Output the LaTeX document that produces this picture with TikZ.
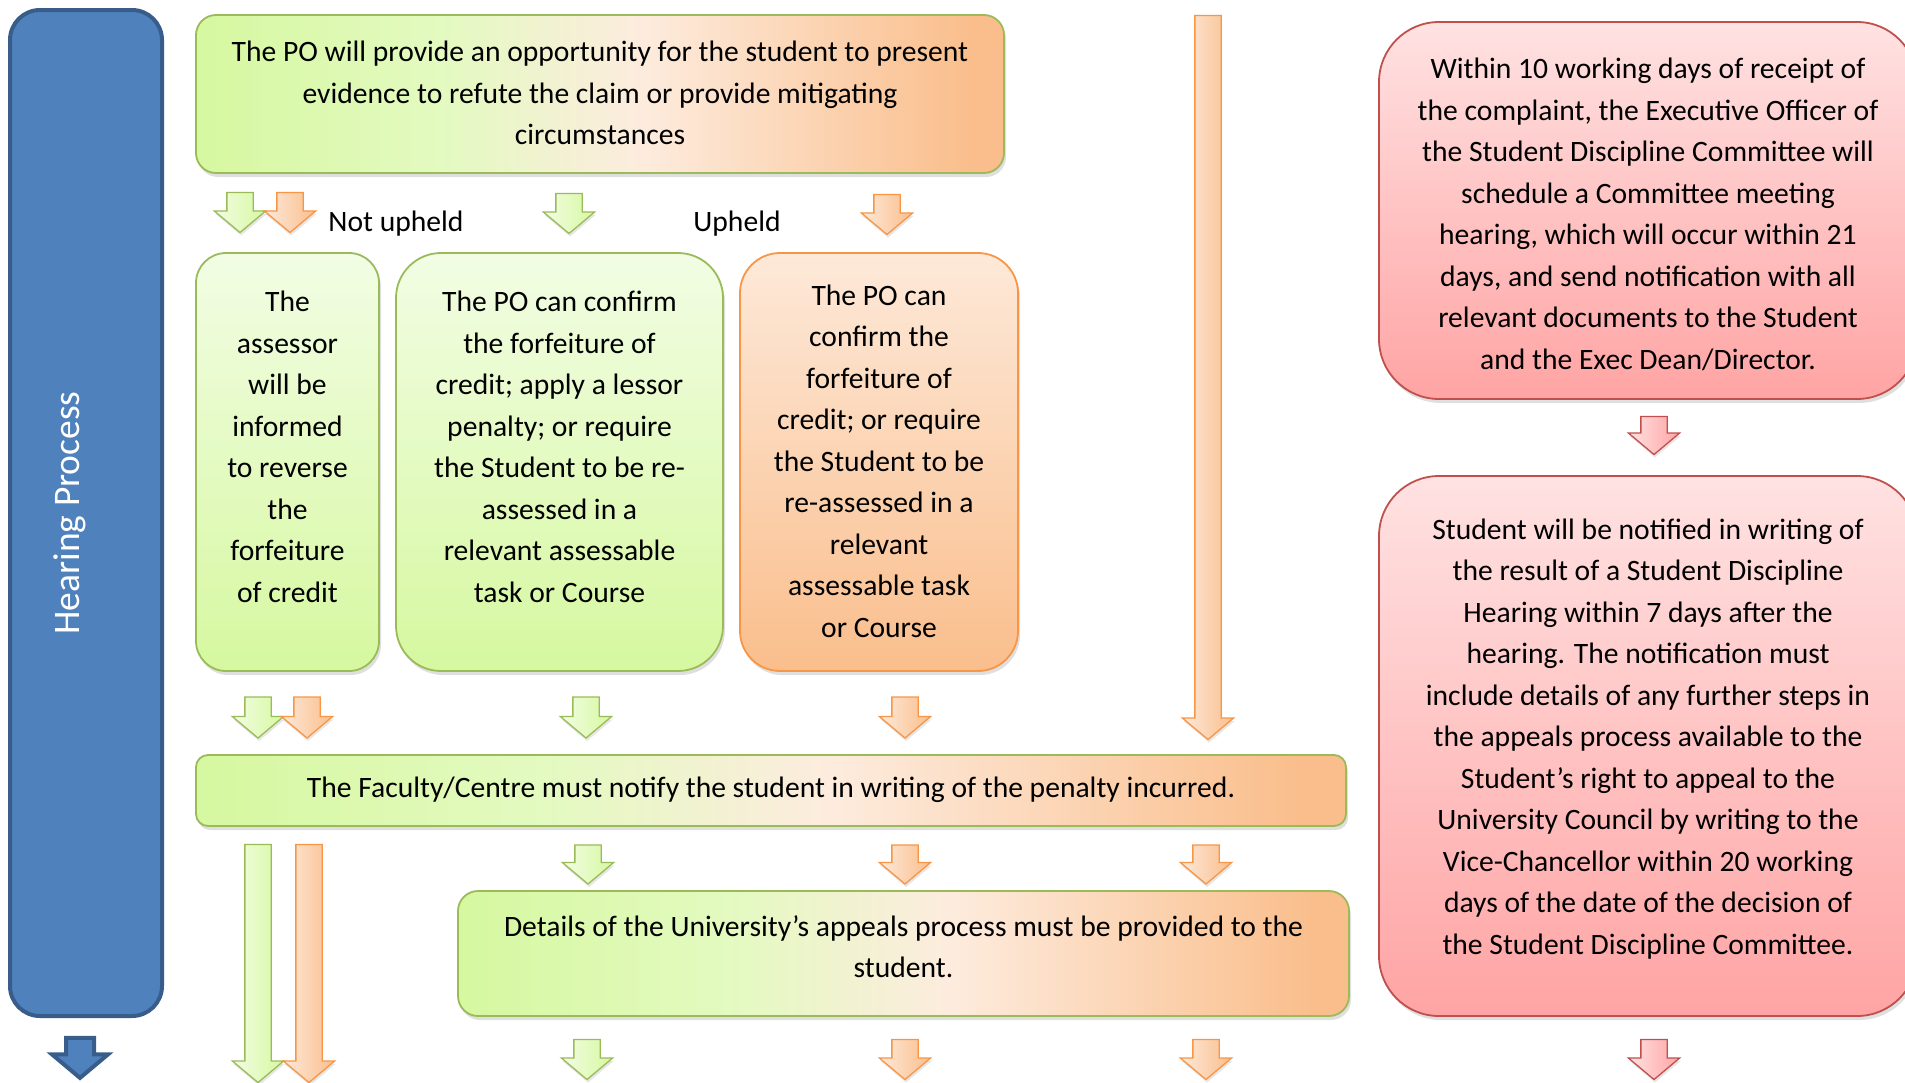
\documentclass[tikz,border=0pt]{standalone}
\usepackage{fontspec}
\setmainfont{Carlito}
\usetikzlibrary{shapes.arrows,shadows}

\definecolor{greenline}{RGB}{155,187,89}
\definecolor{orangeline}{RGB}{247,150,70}
\definecolor{redline}{RGB}{192,80,77}
\definecolor{blueline}{RGB}{56,93,138}
\definecolor{bluefill}{RGB}{79,129,189}
\definecolor{greenlight}{RGB}{242,253,228}
\definecolor{greenmid}{RGB}{227,250,192}
\definecolor{greendark}{RGB}{214,248,160}
\definecolor{cream}{RGB}{253,236,222}
\definecolor{orangelight}{RGB}{253,233,217}
\definecolor{orangedark}{RGB}{250,190,140}
\definecolor{redlight}{RGB}{255,226,226}
\definecolor{reddark}{RGB}{255,164,164}

% path is fitted to the 25bp--75bp band of the shading
\pgfdeclarehorizontalshading{greenorange}{100bp}{color(0bp)=(greendark); color(25bp)=(greendark); color(40bp)=(greenmid); color(52.5bp)=(cream); color(73bp)=(orangedark); color(100bp)=(orangedark)}

\begin{document}
\begin{tikzpicture}[x=1pt,y=-1pt,font=\fontsize{29.6}{41.5}\selectfont]
	\tikzstyle{box}=[draw,line width=1.8pt,inner sep=0pt,drop shadow={shadow xshift=2pt,shadow yshift=-4pt,opacity=0.25}]
	\tikzstyle{greenbox}=[box,draw=greenline,top color=greenlight,bottom color=greendark]
	\tikzstyle{orangebox}=[box,draw=orangeline,top color=orangelight,bottom color=orangedark]
	\tikzstyle{mixbox}=[box,draw=greenline,shading=greenorange]
	\tikzstyle{redbox}=[box,draw=redline,top color=redlight,bottom color=reddark,rounded corners=60pt,minimum width=538pt]
	\tikzstyle{txt}=[align=center,inner sep=0pt]
	\tikzstyle{arr}=[single arrow,rotate=-90,inner xsep=0pt,inner ysep=12.5pt,line width=1.3pt,single arrow head extend=12.5pt,single arrow tip angle=100,drop shadow={shadow xshift=1pt,shadow yshift=-3pt,opacity=0.2}]
	\tikzstyle{garr}=[arr,draw=greenline,left color=greenlight,right color=greendark]
	\tikzstyle{oarr}=[arr,draw=orangeline,left color=orangelight,right color=orangedark]
	\tikzstyle{rarr}=[arr,draw=redline,left color=redlight,right color=reddark]

	\useasboundingbox (0,0) rectangle (1905,1082);

	% side bar
	\node [draw=blueline,fill=bluefill,line width=4pt,rounded corners=30pt,minimum width=152pt,minimum height=1006pt] (side) at (86,513) {};
	\node [rotate=90,text=white,font=\fontsize{37.5}{40}\selectfont] (sidetext) at (70,513) {Hearing Process};
	\node [single arrow,rotate=-90,inner xsep=0pt,inner ysep=12pt,single arrow head extend=14pt,single arrow tip angle=100,draw=blueline,fill=bluefill,line width=4pt,minimum height=40pt] (sidearr) at (80,1052) {};

	% first step
	\node [mixbox,rounded corners=20pt,minimum width=808pt,minimum height=158pt] (po) at (600,94) {};
	\node [txt] (po-t) at (600,93) {The PO will provide an opportunity for the student to present\\evidence to refute the claim or provide mitigating\\circumstances};

	\node [garr,minimum height=40pt] (a1) at (240,207) {};
	\node [oarr,minimum height=40pt] (a2) at (290,207) {};
	\node [garr,minimum height=40pt] (a3) at (569,208) {};
	\node [oarr,minimum height=40pt] (a4) at (887,209) {};
	\node (notup) at (396,223.5) {Not upheld};
	\node (up) at (737,223.5) {Upheld};

	% outcomes
	\node [greenbox,rounded corners=30pt,minimum width=183pt,minimum height=418pt] (reverse) at (287.5,462) {};
	\node [txt] (reverse-t) at (287.5,447) {The\\assessor\\will be\\informed\\to reverse\\the\\forfeiture\\of credit};
	\node [greenbox,rounded corners=45pt,minimum width=327pt,minimum height=418pt] (lessor) at (559.5,462) {};
	\node [txt] (lessor-t) at (559.5,447) {The PO can confirm\\the forfeiture of\\credit; apply a lessor\\penalty; or require\\the Student to be re-\\assessed in a\\relevant assessable\\task or Course};
	\node [orangebox,rounded corners=40pt,minimum width=278pt,minimum height=418pt] (confirm) at (879,462) {};
	\node [txt] (confirm-t) at (879,461) {The PO can\\confirm the\\forfeiture of\\credit; or require\\the Student to be\\re-assessed in a\\relevant\\assessable task\\or Course};
	\node [oarr,minimum height=724pt] (longo) at (1208,372) {};

	\node [garr,minimum height=41pt] (b1) at (258,712) {};
	\node [oarr,minimum height=41pt] (b2) at (307,712) {};
	\node [garr,minimum height=41pt] (b3) at (586,712) {};
	\node [oarr,minimum height=41pt] (b4) at (905,712) {};

	% notification
	\node [mixbox,rounded corners=12pt,minimum width=1150pt,minimum height=71pt] (faculty) at (771,790.5) {};
	\node [txt] (faculty-t) at (771,789.5) {The Faculty/Centre must notify the student in writing of the penalty incurred.};

	\node [garr,minimum height=238pt] (longg2) at (258,958) {};
	\node [oarr,minimum height=238pt] (longo2) at (309,958) {};
	\node [garr,minimum height=39pt] (c1) at (588,859) {};
	\node [oarr,minimum height=39pt] (c2) at (905,859) {};
	\node [oarr,minimum height=39pt] (c3) at (1206,859) {};

	\node [mixbox,rounded corners=20pt,minimum width=891pt,minimum height=125pt] (appeals) at (903.5,953.5) {};
	\node [txt] (appeals-t) at (903.5,946.5) {Details of the University’s appeals process must be provided to the\\student.};

	\node [garr,minimum height=40pt] (d1) at (587,1054) {};
	\node [oarr,minimum height=40pt] (d2) at (905,1054) {};
	\node [oarr,minimum height=40pt] (d3) at (1206,1054) {};

	% committee
	\node [redbox,minimum height=377pt] (schedule) at (1648,210.5) {};
	\node [txt] (schedule-t) at (1648,214.5) {Within 10 working days of receipt of\\the complaint, the Executive Officer of\\the Student Discipline Committee will\\schedule a Committee meeting\\hearing, which will occur within 21\\days, and send notification with all\\relevant documents to the Student\\and the Exec Dean/Director.};
	\node [rarr,minimum height=38pt] (r1) at (1654,430) {};
	\node [redbox,minimum height=540pt] (result) at (1648,746) {};
	\node [txt] (result-t) at (1648,739) {Student will be notified in writing of\\the result of a Student Discipline\\Hearing within 7 days after the\\hearing. The notification must\\include details of any further steps in\\the appeals process available to the\\Student’s right to appeal to the\\University Council by writing to the\\Vice-Chancellor within 20 working\\days of the date of the decision of\\the Student Discipline Committee.};
	\node [rarr,minimum height=40pt] (r2) at (1654,1054) {};
\end{tikzpicture}
\end{document}
